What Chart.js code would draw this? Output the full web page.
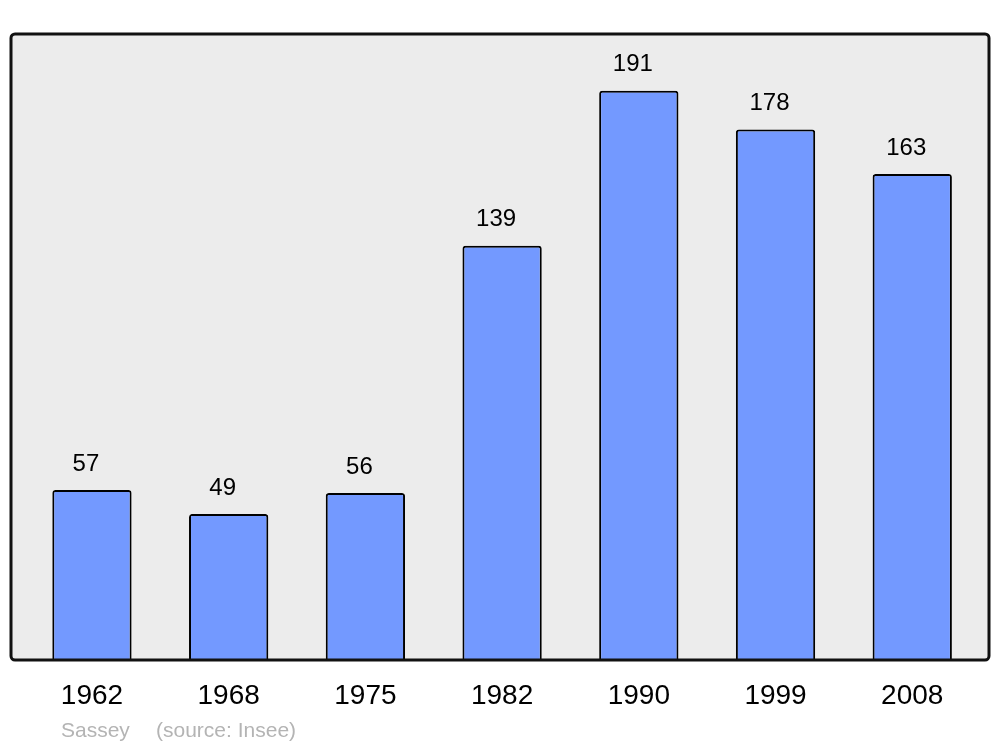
<!DOCTYPE html>
<html>
<head>
<meta charset="utf-8">
<script src="https://cdn.jsdelivr.net/npm/chart.js@4.4.1/dist/chart.umd.min.js"></script>
<style>
  html, body { margin: 0; padding: 0; background: #fff; }
  #wrap { position: relative; width: 1000px; height: 747px; }
</style>
</head>
<body>
<div id="wrap"><canvas id="popChart" width="1000" height="747"></canvas></div>
<script>
const years  = ['1962', '1968', '1975', '1982', '1990', '1999', '2008'];
const values = [57, 49, 56, 139, 191, 178, 163];
const yMax   = 210;
const commune = 'Sassey';
const source  = '(source: Insee)';

const FONT = '"Liberation Sans", Arial, sans-serif';

// Fond gris + cadre arrondi
const framePlugin = {
  id: 'frame',
  beforeDraw(chart) {
    const { ctx, chartArea: a } = chart;
    const x0 = a.left - 12.6, x1 = a.right + 8.4;
    const y0 = a.top, y1 = a.bottom;
    ctx.save();
    ctx.beginPath();
    ctx.roundRect(x0, y0, x1 - x0, y1 - y0, 4);
    ctx.fillStyle = '#ececec';
    ctx.fill();
    ctx.restore();
  },
  afterDatasetsDraw(chart) {
    const { ctx, chartArea: a } = chart;
    const x0 = a.left - 12.6, x1 = a.right + 8.4;
    const y0 = a.top, y1 = a.bottom;
    ctx.save();
    ctx.beginPath();
    ctx.roundRect(x0, y0, x1 - x0, y1 - y0, 4);
    ctx.lineWidth = 3;
    ctx.strokeStyle = '#111';
    ctx.stroke();

    // valeurs au-dessus des barres
    ctx.fillStyle = '#000';
    ctx.font = '24px ' + FONT;
    ctx.textAlign = 'center';
    ctx.textBaseline = 'middle';
    chart.getDatasetMeta(0).data.forEach((bar, i) => {
      ctx.fillText(String(values[i]), bar.x - 6, bar.y - 26);
    });

    // légende source
    ctx.fillStyle = '#b4b4b4';
    ctx.font = '21px ' + FONT;
    ctx.textAlign = 'left';
    ctx.textBaseline = 'alphabetic';
    ctx.fillText(commune, 61, 737);
    ctx.fillText(source, 156, 737);
    ctx.restore();
  }
};

new Chart(document.getElementById('popChart').getContext('2d'), {
  type: 'bar',
  data: {
    labels: years,
    datasets: [{
      data: values,
      backgroundColor: '#7399ff',
      borderColor: '#000',
      borderWidth: 2,
      borderRadius: { topLeft: 3, topRight: 3, bottomLeft: 0, bottomRight: 0 },
      borderSkipped: 'bottom',
      categoryPercentage: 0.58,
      barPercentage: 1.0
    }]
  },
  options: {
    responsive: false,
    animation: false,
    layout: { padding: { left: 23.6, right: 19.4, top: 34, bottom: 0 } },
    plugins: { legend: { display: false }, tooltip: { enabled: false } },
    scales: {
      x: {
        grid: { display: false },
        border: { display: false },
        ticks: { color: '#000', font: { size: 28, family: FONT }, padding: 11 },
        afterFit: s => { s.height = 87; }
      },
      y: {
        display: false,
        min: 0,
        max: yMax
      }
    }
  },
  plugins: [framePlugin]
});
</script>
</body>
</html>
